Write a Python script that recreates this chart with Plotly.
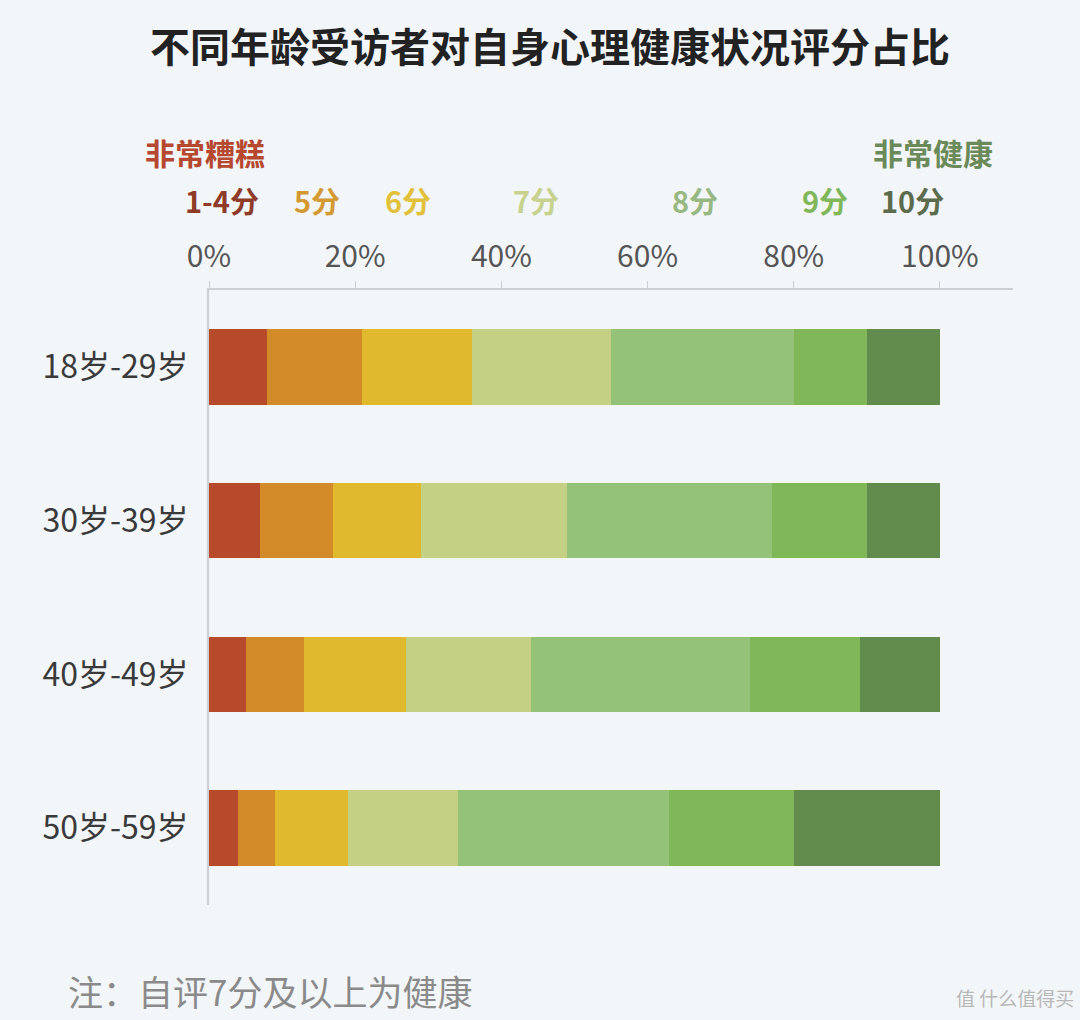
import plotly.graph_objects as go

# ---- data ----
age_groups = ["18岁-29岁", "30岁-39岁", "40岁-49岁", "50岁-59岁"]
score_labels = ["1-4分", "5分", "6分", "7分", "8分", "9分", "10分"]
share_1_4 = [8, 7, 5, 4]
share_5 = [13, 10, 8, 5]
share_6 = [15, 12, 14, 10]
share_7 = [19, 20, 17, 15]
share_8 = [25, 28, 30, 29]
share_9 = [10, 13, 15, 17]
share_10 = [10, 10, 11, 20]
series = [share_1_4, share_5, share_6, share_7, share_8, share_9, share_10]
tick_vals = [0, 20, 40, 60, 80, 100]
tick_text = ["0%", "20%", "40%", "60%", "80%", "100%"]

bar_colors = ["#b84a2c", "#d38b2a", "#e0b92e", "#c4d185", "#93c278", "#80b759", "#628c4d"]
label_colors = ["#8e3b28", "#d39a32", "#e1c03a", "#c6d28e", "#98b882", "#80b759", "#5c6b4c"]

W, H = 1080, 1020
ML, MR, MT, MB = 209, 67, 290, 115
FONT = "Noto Sans CJK SC"

def px(x):
    return (x - ML) / (W - ML - MR)

def py(y):
    return (H - MB - y) / (H - MT - MB)

fig = go.Figure()
for name, vals, col in zip(score_labels, series, bar_colors):
    fig.add_trace(go.Bar(
        y=age_groups, x=vals, name=name, orientation="h",
        marker=dict(color=col, line=dict(width=0)),
        width=0.49, hoverinfo="x+y+name",
    ))

annotations = [
    dict(text="<b>不同年龄受访者对自身心理健康状况评分占比</b>", x=px(550), y=py(45),
         xanchor="center", yanchor="middle",
         font=dict(size=40, color="#222222", family=FONT)),
    dict(text="<b>非常糟糕</b>", x=px(143), y=py(152), xanchor="left", yanchor="middle",
         font=dict(size=30, color="#b5482e", family=FONT)),
    dict(text="<b>非常健康</b>", x=px(995), y=py(152), xanchor="right", yanchor="middle",
         font=dict(size=30, color="#6b8a5a", family=FONT)),
    dict(text="注：自评7分及以上为健康", x=px(66), y=py(990), xanchor="left", yanchor="middle",
         font=dict(size=35, color="#8a8a8a", family=FONT)),
    dict(text="值 什么值得买", x=px(1076), y=py(997), xanchor="right", yanchor="middle",
         font=dict(size=19, color="#b8b8b8", family=FONT)),
]
label_x = [222, 317, 408, 536, 695, 825, 912]
for lbl, lx, lc in zip(score_labels, label_x, label_colors):
    annotations.append(dict(text=f"<b>{lbl}</b>", x=px(lx), y=py(200), xanchor="center",
                            yanchor="middle", font=dict(size=29, color=lc, family=FONT)))
for a in annotations:
    a.update(xref="paper", yref="paper", showarrow=False)

fig.update_layout(
    width=W, height=H,
    margin=dict(l=ML, r=MR, t=MT, b=MB),
    paper_bgcolor="#f3f6f9", plot_bgcolor="#f3f6f9",
    barmode="stack", showlegend=False,
    font=dict(family=FONT),
    xaxis=dict(side="top", range=[0, 110], tickvals=tick_vals, ticktext=tick_text,
               showgrid=False, zeroline=False, showline=True, linecolor="#cdd0d3", linewidth=2,
               ticks="outside", ticklen=7, tickcolor="#cdd0d3", tickwidth=1,
               tickfont=dict(size=30, color="#555555", family=FONT), ticklabelstandoff=2),
    yaxis=dict(type="category", range=[3.5, -0.5], showgrid=False, zeroline=False,
               showline=True, linecolor="#cdd0d3", linewidth=2, ticks="",
               tickfont=dict(size=32, color="#3a3a3a", family=FONT), ticklabelstandoff=12),
    annotations=annotations,
)

fig.write_html("out.html")
